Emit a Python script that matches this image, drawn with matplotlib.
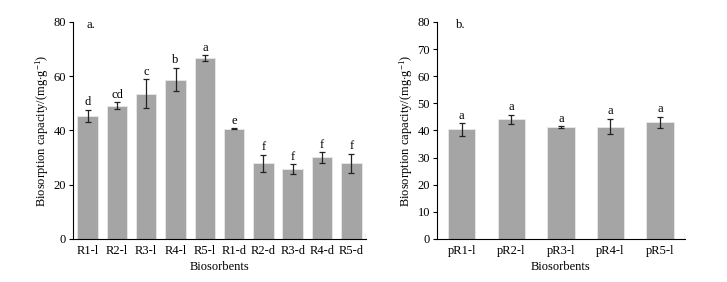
import matplotlib
matplotlib.use("Agg")
import matplotlib.pyplot as plt

plt.rcParams["font.family"] = ["Liberation Serif", "DejaVu Serif"]
plt.rcParams["mathtext.fontset"] = "custom"
plt.rcParams["mathtext.rm"] = "Liberation Serif"
plt.rcParams["mathtext.it"] = "Liberation Serif"

# panel a
cats_a = ["R1-l", "R2-l", "R3-l", "R4-l", "R5-l", "R1-d", "R2-d", "R3-d", "R4-d", "R5-d"]
vals_a = [45.3, 49.2, 53.6, 58.8, 66.6, 40.6, 27.9, 25.7, 30.1, 27.9]
errs_a = [2.3, 1.2, 5.3, 4.2, 1.1, 0.2, 3.2, 1.8, 1.9, 3.4]
sig_a = ["d", "cd", "c", "b", "a", "e", "f", "f", "f", "f"]

# panel b
cats_b = ["pR1-l", "pR2-l", "pR3-l", "pR4-l", "pR5-l"]
vals_b = [40.4, 44.1, 41.3, 41.4, 43.1]
errs_b = [2.3, 1.7, 0.2, 2.8, 2.0]
sig_b = ["a", "a", "a", "a", "a"]

BAR = "#a5a5a5"
FS = 9
YLAB = "Biosorption capacity/(mg$\\cdot$g$^{-1}$)"

fig = plt.figure(figsize=(7.27, 2.82), dpi=100)
ax1 = fig.add_axes([0.1004, 0.1525, 0.403, 0.7695])
ax2 = fig.add_axes([0.601, 0.1525, 0.341, 0.7695])


def panel(ax, cats, vals, errs, sig, width, yticks, tag, tagx):
    x = list(range(len(cats)))
    ax.bar(x, vals, width=width, color=BAR, edgecolor="#e8e8e8", linewidth=0.6)
    ax.errorbar(x, vals, yerr=errs, fmt="none", ecolor="#222222",
                elinewidth=0.9, capsize=2.2, capthick=0.9)
    for xi, v, e, s in zip(x, vals, errs, sig):
        ax.text(xi, v + e + 0.6, s, ha="center", va="bottom", fontsize=FS)
    ax.set_xlim(-0.5, len(cats) - 0.5)
    ax.set_ylim(0, 80)
    ax.set_yticks(yticks)
    ax.set_xticks(x)
    ax.set_xticklabels(cats)
    ax.tick_params(axis="x", length=0, labelsize=FS, pad=4)
    ax.tick_params(axis="y", direction="out", length=3, width=0.8, labelsize=FS, pad=2)
    for sp in ("top", "right"):
        ax.spines[sp].set_visible(False)
    for sp in ("left", "bottom"):
        ax.spines[sp].set_linewidth(0.8)
    ax.axvline(len(cats) - 0.5, ymin=0, ymax=0.025, color="black", lw=0.8)
    ax.set_xlabel("Biosorbents", fontsize=FS, labelpad=3)
    ax.set_ylabel(YLAB, fontsize=FS, labelpad=2)
    ax.text(tagx, 0.985, tag, transform=ax.transAxes, ha="left", va="center", fontsize=FS)


panel(ax1, cats_a, vals_a, errs_a, sig_a, 0.7, [0, 20, 40, 60, 80], "a.", 0.045)
panel(ax2, cats_b, vals_b, errs_b, sig_b, 0.55, list(range(0, 81, 10)), "b.", 0.075)

fig.savefig("out.png", dpi=100)
